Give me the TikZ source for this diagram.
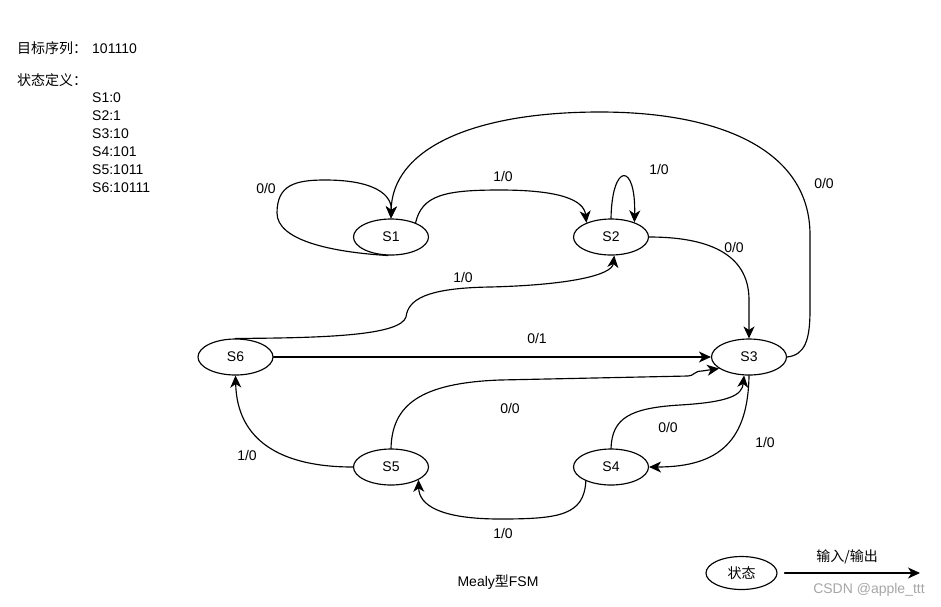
\documentclass[tikz,border=0pt]{standalone}
\usepackage{fontspec}
\setmainfont{Liberation Sans}
\newfontfamily\cjk{Noto Sans CJK SC}
\usetikzlibrary{shapes.geometric,arrows.meta}

\tikzset{
  state/.style={ellipse,draw,line width=1.15pt,minimum width=75pt,minimum height=36pt,inner sep=0pt},
  edge/.style={-{Stealth[length=12pt,width=11pt,inset=3.5pt]},line width=1.15pt},
  lbl/.style={inner sep=1pt},
}

\begin{document}
\begin{tikzpicture}[x=1pt,y=-1pt,line cap=round,line join=round,
    font=\fontsize{14}{17}\selectfont]
  \useasboundingbox (0,0) rectangle (941,606);

  % Target sequence and state definitions, top left.
  \node[anchor=west,inner sep=0pt] (target) at (17,48) {{\cjk 目标序列：}\hspace{5pt}101110};
  \node[anchor=west,inner sep=0pt] (defs) at (17,80) {\cjk 状态定义：};
  \foreach \n/\v [count=\i] in {1/0,2/1,3/10,4/101,5/1011,6/10111}
    \node[anchor=west,inner sep=0pt] (def\n) at (92,{80+18*\i}) {S\n:\v};

  % States.
  \node[state] (s1) at (391,237) {S1};
  \node[state] (s2) at (611,237) {S2};
  \node[state] (s3) at (749,357) {S3};
  \node[state] (s4) at (611,467) {S4};
  \node[state] (s5) at (391,467) {S5};
  \node[state] (s6) at (235.5,357) {S6};

  % Transitions.
  \draw[edge] (s1.260) .. controls (330,252) and (277,240) .. (277,213)
    .. controls (277,185) and (295,180) .. (325,180)
    .. controls (375,180) and (392,195) .. (s1.north);
  \draw[edge] (s1.30) .. controls (422,195) and (445,190) .. (500,190)
    .. controls (560,190) and (584,200) .. (s2.150);
  \draw[edge] (s2.north) .. controls (612,162) and (636,162) .. (s2.32);
  \draw[edge] (s3.east) .. controls (805,355) and (810,340) .. (810,310) -- (810,235)
    .. controls (810,150) and (720,112) .. (600,112)
    .. controls (470,112) and (392,150) .. (s1.north);
  \draw[edge] (s2.east) .. controls (705,237) and (749,252) .. (749,300) -- (s3.north);
  \draw[edge] (s6.north) .. controls (330,338) and (400,335) .. (406,317)
    .. controls (408,300) and (425,288) .. (490,287)
    .. controls (570,285) and (612,275) .. (s2.-80);
  \draw[edge] (s6.east) -- (s3.west);
  \draw[edge] (s5.north) .. controls (392,405) and (420,383) .. (500,380) -- (688,376)
    .. controls (694,376) and (694,371) .. (702,371) -- (s3.201);
  \draw[edge] (s4.north) .. controls (612,418) and (630,408) .. (680,405)
    .. controls (730,402) and (742,395) .. (s3.-105);
  \draw[edge] (s3.south) .. controls (748,440) and (720,467) .. (s4.east);
  \draw[edge] (s5.west) .. controls (280,467) and (237,440) .. (s6.south);
  \draw[edge] (s4.209) .. controls (584,515) and (560,519) .. (500,519)
    .. controls (440,519) and (419,505) .. (s5.-25);

  % Transition labels (input/output).
  \node[lbl] (l11) at (266,188) {0/0};
  \node[lbl] (l12) at (503,176) {1/0};
  \node[lbl] (l22) at (659,169) {1/0};
  \node[lbl] (l31) at (824,183) {0/0};
  \node[lbl] (l23) at (734,247) {0/0};
  \node[lbl] (l62) at (463,277) {1/0};
  \node[lbl] (l63) at (537,338) {0/1};
  \node[lbl] (l53) at (510,408) {0/0};
  \node[lbl] (l43) at (668,427) {0/0};
  \node[lbl] (l34) at (765,442) {1/0};
  \node[lbl] (l56) at (247,455) {1/0};
  \node[lbl] (l45) at (503,533) {1/0};

  % Caption and legend.
  \node (caption) at (498,582) {Mealy{\cjk 型}FSM};
  \node[state,minimum width=71pt,minimum height=33pt] (legend) at (741.5,573) {\cjk 状态};
  \coordinate (legend end) at (920,573);
  \draw[edge] ([xshift=7pt]legend.east) -- (legend end);
  \node (legend io) at (847,557) {\cjk 输入/输出};
  \node[text=black!35] (mark) at (869,590) {CSDN @apple\_ttt};
\end{tikzpicture}
\end{document}
